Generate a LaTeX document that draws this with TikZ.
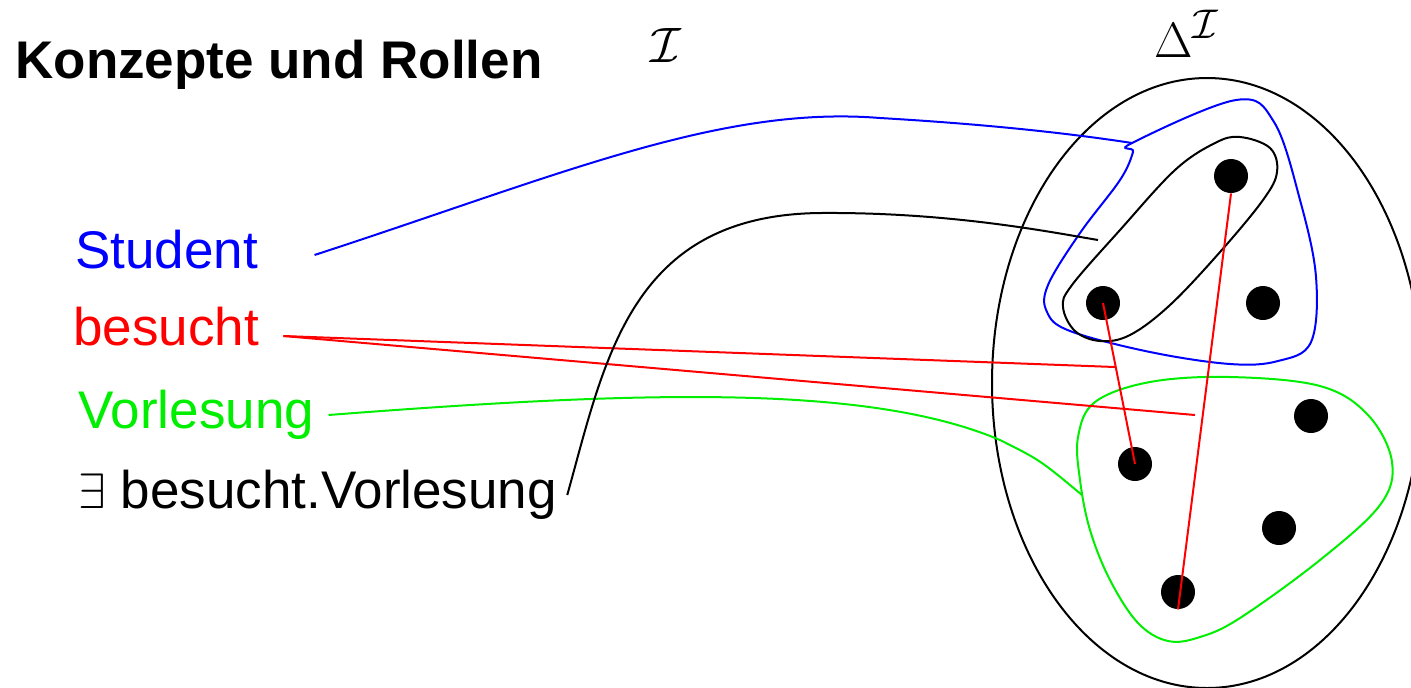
\documentclass[tikz,border=0pt]{standalone}
\usepackage{fontspec}
\setmainfont{Liberation Sans}
\usepackage{tikz}
\usetikzlibrary{calc}
\definecolor{BLUE}{HTML}{0000FF}
\definecolor{RED}{HTML}{FF0000}
\definecolor{GREEN}{HTML}{00EE00}
\begin{document}
\begin{tikzpicture}[x=0.5pt,y=-0.5pt]
\tikzset{ln/.style={line width=1pt},lbl/.style={anchor=base west,inner sep=0pt,font=\fontsize{26.5}{30}\selectfont},
 pt/.style={circle,fill=black,inner sep=0pt,minimum size=17pt}}
\useasboundingbox (0,0) rectangle (1411,687);
% texts
\node[lbl,font=\fontsize{26.5}{30}\selectfont\bfseries] (title) at (15,78) {Konzepte und Rollen};
\node[anchor=base west,inner sep=0pt,font=\fontsize{25}{30}\selectfont] (interp) at (650,62) {$\mathcal{I}$};
\node[anchor=base west,inner sep=0pt,font=\fontsize{29}{34}\selectfont] (domain) at (1154,57) {$\Delta^{\mathcal{I}}$};
\node[lbl,BLUE] (student) at (75,268) {Student};
\node[lbl,RED] (besucht) at (73,345) {besucht};
\node[lbl,GREEN] (vorl) at (78,428) {Vorlesung};
\node[lbl] (exvorl) at (78,508) {$\exists$ besucht.Vorlesung};
% domain and individuals
\draw[ln] (1207,383) ellipse[x radius=215,y radius=305];
\node[pt] (d1) at (1231,176) {};\node[pt] (d2) at (1103,303) {};\node[pt] (d3) at (1263,303) {};
\node[pt] (d4) at (1311,416) {};\node[pt] (d5) at (1135,464) {};\node[pt] (d6) at (1279,528) {};
\node[pt] (d7) at (1178,592) {};
% extensions
\draw[ln,BLUE] plot[smooth cycle,tension=0.6] coordinates {(1132,143) (1236,100) (1274,122) (1300,200) (1316,277)
 (1311,342) (1278,361) (1230,364) (1150,352) (1070,331) (1047,312) (1048,285) (1080,233) (1120,180) (1133,152)};
\draw[ln] plot[smooth cycle,tension=0.6] coordinates {(1240,137) (1270,148) (1277,172) (1263,200) (1220,252)
 (1170,305) (1130,335) (1100,341) (1075,331) (1063,307) (1072,285) (1120,230) (1175,170) (1215,143)};
\draw[ln,GREEN] plot[smooth cycle,tension=0.6] coordinates {(1230,377) (1320,386) (1368,415) (1392,462) (1380,505)
 (1320,560) (1240,618) (1200,637) (1168,641) (1138,623) (1110,580) (1090,530) (1080,480) (1078,437) (1095,402) (1150,382)};
\coordinate (sj) at (1132,143);\coordinate (bj) at (1098,240);\coordinate (gj) at (1082,495);
\coordinate (r1) at (1115,367);\coordinate (r2) at (1195,415);
% connectors
\draw[ln,BLUE] ([xshift=28pt,yshift=6.5pt]student.base east) .. controls (560,175) and (720,105) .. (880,118)
 .. controls (1000,125) and (1080,135) .. (sj);
\draw[ln,RED] ([xshift=12pt,yshift=4.5pt]besucht.base east) -- (r1);
\draw[ln,RED] ([xshift=12pt,yshift=4.5pt]besucht.base east) -- (r2);
\draw[ln,GREEN] ([xshift=7pt,yshift=6.5pt]vorl.base east) .. controls (650,390) and (870,385) .. (1000,440)
 .. controls (1040,460) .. (gj);
\draw[ln] ([xshift=5pt,yshift=6.5pt]exvorl.base east) .. controls (605,360) and (630,215) .. (820,213)
 .. controls (950,212) and (1050,232) .. (bj);
\draw[ln,RED] (d2.center) -- (d5.center);
\draw[ln,RED] (d1.south) -- (d7.south);
\end{tikzpicture}
\end{document}
